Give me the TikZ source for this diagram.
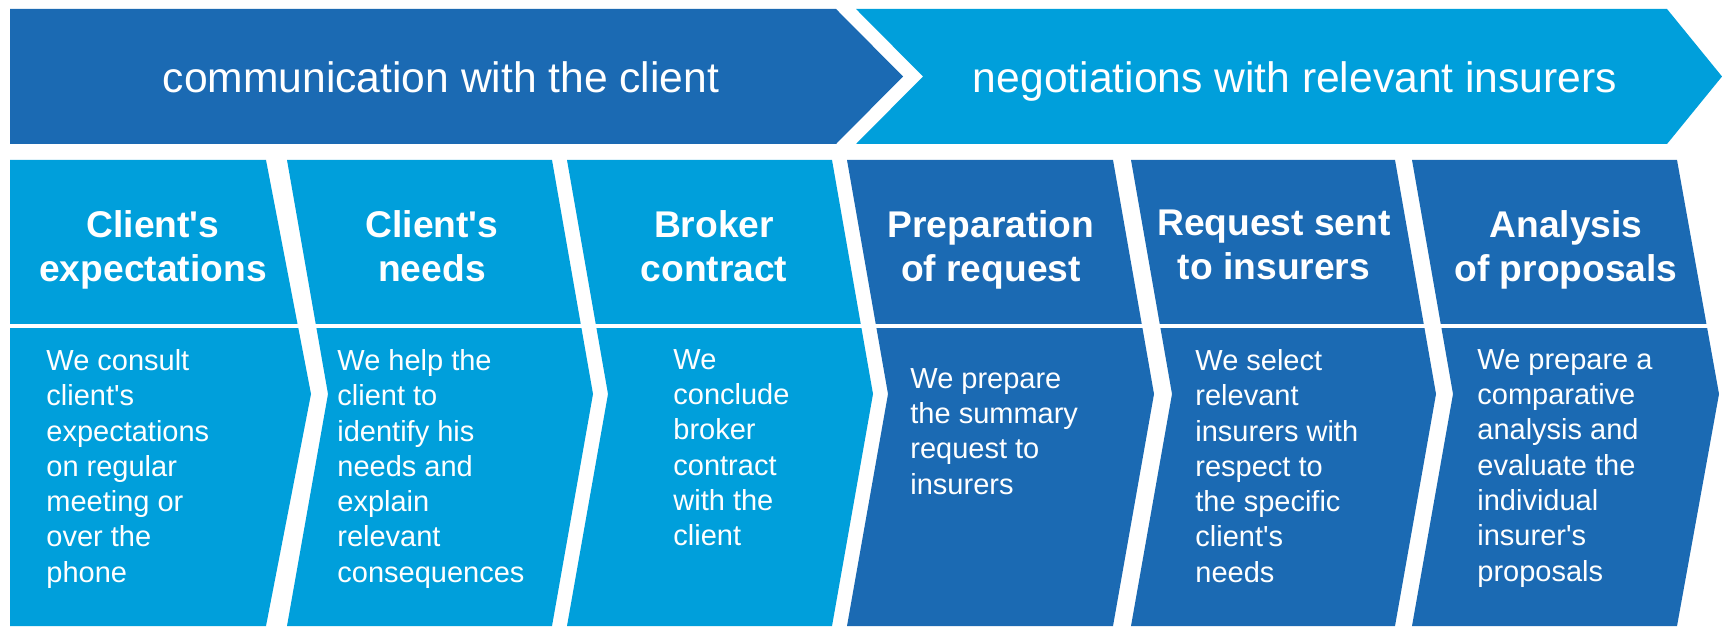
\documentclass[tikz,border=0pt]{standalone}
\usepackage{fontspec}
\setmainfont{Liberation Sans}[Ligatures=TeXOff]
\definecolor{darkblue}{RGB}{27,106,179}
\definecolor{lightblue}{RGB}{0,159,219}
\begin{document}
\begin{tikzpicture}[x=0.5pt,y=0.5pt,
        banner/.style={anchor=base,text=white,inner sep=0pt,font=\fontsize{21.3}{25}\selectfont},
        title/.style={anchor=north,align=center,text=white,inner sep=0pt,font=\bfseries\fontsize{18.6}{22}\selectfont},
        desc/.style={anchor=north west,align=left,text=white,inner sep=0pt,font=\fontsize{14.5}{17.65}\selectfont}]
        \useasboundingbox (0,0) rectangle (1722,626);
        % top banner
        \fill[darkblue] (10,617) -- (836,617) -- (903,549.5) -- (836,482) -- (10,482) -- cycle;
        \fill[lightblue] (856,617) -- (1667,617) -- (1722,549.5) -- (1667,482) -- (856,482) -- (923,549.5) -- cycle;
        \node[banner] (comm) at (441,533) {communication with the client};
        \node[banner] (nego) at (1295,533) {negotiations with relevant insurers};
        % steps
        \fill[lightblue] (10,466) -- (266,466) -- (311,232) -- (266,0) -- (10,0) -- cycle;
        \fill[lightblue] (287,466) -- (552,466) -- (593,232) -- (552,0) -- (287,0) -- (328,232) -- cycle;
        \fill[lightblue] (567,466) -- (832,466) -- (873,232) -- (832,0) -- (567,0) -- (608,232) -- cycle;
        \fill[darkblue] (847,466) -- (1113,466) -- (1154,232) -- (1113,0) -- (847,0) -- (888,232) -- cycle;
        \fill[darkblue] (1131,466) -- (1395,466) -- (1436,232) -- (1395,0) -- (1131,0) -- (1172,232) -- cycle;
        \fill[darkblue] (1412,466) -- (1677,466) -- (1719,232) -- (1677,0) -- (1412,0) -- (1453,232) -- cycle;
        \draw[white,line width=2pt] (0,300) -- (1722,300);
        % titles
        \node[title] (exp) at (153,416) {Client's\\expectations};
        \node[title] (needs) at (432,416) {Client's\\needs};
        \node[title] (contract) at (714,416) {Broker\\contract};
        \node[title] (prep) at (991,416) {Preparation\\of request};
        \node[title] (sent) at (1274,416) {Request sent\\to insurers};
        \node[title] (analysis) at (1566,416) {Analysis\\of proposals};
        % descriptions
        \node[desc] (expText) at (46,277) {We consult\\client's\\expectations\\on regular\\meeting or\\over the\\phone};
        \node[desc] (needsText) at (337,277) {We help the\\client to\\identify his\\needs and\\explain\\relevant\\consequences};
        \node[desc] (contractText) at (673,277) {We\\conclude\\broker\\contract\\with the\\client};
        \node[desc] (prepText) at (910,258) {We prepare\\the summary\\request to\\insurers};
        \node[desc] (sentText) at (1195,277) {We select\\relevant\\insurers with\\respect to\\the specific\\client's\\needs};
        \node[desc] (analysisText) at (1477,277) {We prepare a\\comparative\\analysis and\\evaluate the\\individual\\insurer's\\proposals};
    \end{tikzpicture}
\end{document}
